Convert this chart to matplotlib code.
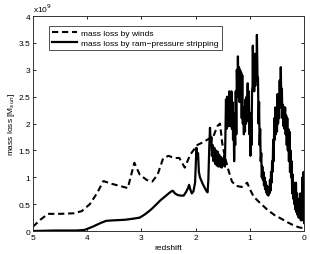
import matplotlib
matplotlib.use("Agg")
import matplotlib.pyplot as plt
from matplotlib.ticker import FuncFormatter

plt.rcParams['font.family'] = ['Liberation Sans Narrow', 'Liberation Sans', 'DejaVu Sans']

# mass loss by winds (redshift, 1e9 Msun)
z_winds = [5.0, 4.85, 4.72, 4.5, 4.25, 4.1, 3.95, 3.82, 3.7, 3.55, 3.4, 3.25,
           3.13, 3.03, 2.9, 2.8, 2.7, 2.6, 2.5, 2.4, 2.3, 2.2, 2.1, 1.97,
           1.85, 1.75, 1.68, 1.6, 1.55, 1.51, 1.46, 1.4, 1.33, 1.25, 1.15,
           1.05, 1.0, 0.93, 0.81, 0.68, 0.55, 0.44, 0.3, 0.2, 0.1, 0.0]
y_winds = [0.08, 0.22, 0.32, 0.32, 0.33, 0.37, 0.5, 0.7, 0.93, 0.88, 0.84, 0.8,
           1.27, 1.05, 0.95, 0.92, 1.05, 1.35, 1.4, 1.36, 1.36, 1.18, 1.42, 1.6,
           1.66, 1.72, 1.74, 1.95, 2.0, 1.64, 1.38, 1.15, 0.92, 0.84, 0.82,
           0.9, 0.78, 0.64, 0.52, 0.4, 0.3, 0.24, 0.16, 0.11, 0.07, 0.05]

# mass loss by ram-pressure stripping (redshift, 1e9 Msun)
z_ram = [5.0, 4.6, 4.2, 4.05, 3.9, 3.75, 3.65, 3.5, 3.3, 3.15, 3.03, 2.95,
         2.87, 2.8, 2.72, 2.65, 2.58, 2.52, 2.46, 2.42, 2.38, 2.33, 2.28, 2.22,
         2.18, 2.14, 2.12, 2.1, 2.07, 2.04, 2.01, 1.985, 1.97, 1.955, 1.94, 1.92,
         1.9, 1.87, 1.84, 1.81, 1.78, 1.765, 1.75, 1.735, 1.72, 1.71, 1.7, 1.685,
         1.67, 1.655, 1.64, 1.625, 1.61, 1.595, 1.58, 1.565, 1.55, 1.535, 1.52,
         1.505, 1.49, 1.475, 1.46, 1.45, 1.44, 1.43, 1.42, 1.41, 1.4, 1.39, 1.38,
         1.37, 1.36, 1.35, 1.34, 1.33, 1.32, 1.31, 1.3, 1.29, 1.28, 1.27, 1.26,
         1.25, 1.24, 1.23, 1.22, 1.21, 1.2, 1.19, 1.18, 1.17, 1.16, 1.15, 1.14,
         1.13, 1.12, 1.11, 1.1, 1.09, 1.08, 1.07, 1.06, 1.05, 1.04, 1.03, 1.02,
         1.01, 1.0, 0.99, 0.98, 0.97, 0.96, 0.95, 0.945, 0.94, 0.93, 0.92, 0.91,
         0.9, 0.89, 0.88, 0.87, 0.86, 0.85, 0.84, 0.83, 0.82, 0.81, 0.8, 0.79,
         0.78, 0.77, 0.76, 0.75, 0.74, 0.73, 0.72, 0.71, 0.7, 0.69, 0.68, 0.67,
         0.66, 0.65, 0.64, 0.63, 0.62, 0.61, 0.6, 0.59, 0.58, 0.57, 0.56, 0.55,
         0.54, 0.53, 0.52, 0.51, 0.5, 0.49, 0.48, 0.47, 0.46, 0.45, 0.44, 0.43,
         0.42, 0.41, 0.4, 0.39, 0.38, 0.37, 0.36, 0.35, 0.34, 0.33, 0.32, 0.31,
         0.3, 0.29, 0.28, 0.27, 0.26, 0.25, 0.24, 0.23, 0.22, 0.21, 0.2, 0.19,
         0.18, 0.17, 0.16, 0.15, 0.14, 0.13, 0.12, 0.11, 0.1, 0.09, 0.08, 0.07,
         0.06, 0.05, 0.04, 0.03, 0.02, 0.01, 0.0]
y_ram = [0.0, 0.01, 0.01, 0.02, 0.08, 0.15, 0.19, 0.2, 0.21, 0.23, 0.25, 0.3,
         0.36, 0.42, 0.5, 0.57, 0.63, 0.68, 0.73, 0.75, 0.7, 0.67, 0.66, 0.66,
         0.72, 0.8, 0.86, 0.78, 0.7, 0.74, 0.9, 1.55, 1.35, 1.45, 1.1, 1.0,
         0.95, 0.88, 0.82, 0.76, 0.72, 0.95, 1.5, 1.92, 1.6, 1.75, 1.4, 1.6,
         1.3, 1.55, 1.25, 1.5, 1.22, 1.48, 1.2, 1.42, 1.2, 1.38, 1.18,
         1.35, 1.22, 1.4, 1.2, 1.8, 2.45, 1.9, 2.5, 2.0, 2.4, 1.95, 2.6,
         2.05, 2.55, 1.95, 2.6, 1.9, 2.4, 1.7, 2.2, 1.3, 1.9, 1.6, 2.6,
         1.8, 3.0, 2.5, 3.25, 2.5, 3.05, 2.4, 3.0, 2.5, 2.95, 2.1, 2.9,
         2.0, 2.3, 1.8, 2.3, 1.85, 2.45, 2.0, 2.5, 2.05, 2.75, 2.1, 2.6,
         1.8, 2.2, 1.4, 2.1, 1.6, 2.6, 2.7, 3.45, 2.8, 3.2, 2.6, 3.3,
         2.7, 3.1, 2.8, 3.65, 2.9, 2.85, 2.0, 2.4, 1.6, 1.9, 1.3, 1.45,
         1.0, 1.2, 0.95, 1.1, 0.85, 1.0, 0.78, 0.92, 0.72, 0.85, 0.68, 0.8,
         0.66, 0.82, 0.7, 0.95, 0.75, 1.1, 0.9, 1.3, 1.1, 1.7, 1.3, 2.1,
         1.7, 2.3, 1.8, 2.2, 1.85, 2.55, 2.0, 2.5, 2.1, 2.8, 2.3, 3.05,
         2.4, 2.65, 2.1, 2.35, 1.95, 2.3, 1.9, 2.3, 1.8, 2.15, 1.6, 2.1,
         1.5, 1.9, 1.3, 1.85, 1.1, 1.5, 1.0, 1.3, 0.7, 1.05, 0.6, 0.9,
         0.5, 0.85, 0.4, 0.9, 0.35, 0.7, 0.3, 0.6, 0.25, 0.55, 0.25, 0.7,
         0.2, 0.6, 0.2, 1.0, 0.4, 1.1, 0.15]

x_ticks = [5, 4, 3, 2, 1, 0]
y_ticks = [0, 0.5, 1, 1.5, 2, 2.5, 3, 3.5, 4]

fig = plt.figure(figsize=(3.1, 2.55), dpi=100)
ax = fig.add_axes([0.106, 0.09, 0.875, 0.843])

ax.plot(z_winds, y_winds, color='black', lw=1.5, ls=(0, (3, 1.8)),
        label='mass loss by winds')
ax.plot(z_ram, y_ram, color='black', lw=1.6,
        label='mass loss by ram\u2212pressure stripping')

ax.set_xlim(5, 0)
ax.set_ylim(0, 4)
ax.set_xticks(x_ticks)
ax.set_yticks(y_ticks)
ax.yaxis.set_major_formatter(FuncFormatter(lambda v, p: '%g' % v))
ax.tick_params(direction='in', length=2.5, width=0.6, labelsize=6,
               top=True, right=True, pad=2)
for s in ax.spines.values():
    s.set_linewidth(0.7)
    s.set_color('#333333')

ax.set_xlabel('redshift', fontsize=6, labelpad=2)
ax.set_ylabel('mass loss [M$_{sun}$]', fontsize=6, labelpad=1)
ax.text(0.0, 1.01, 'x10$^9$', transform=ax.transAxes, fontsize=6,
        ha='left', va='bottom')

leg = ax.legend(loc='upper left', bbox_to_anchor=(0.06, 0.955), fontsize=6,
                frameon=True, fancybox=False, handlelength=3.0,
                borderpad=0.35, labelspacing=0.3, handletextpad=0.5,
                borderaxespad=0)
leg.get_frame().set_edgecolor('black')
leg.get_frame().set_linewidth(0.6)

fig.savefig('out.png', dpi=100)
